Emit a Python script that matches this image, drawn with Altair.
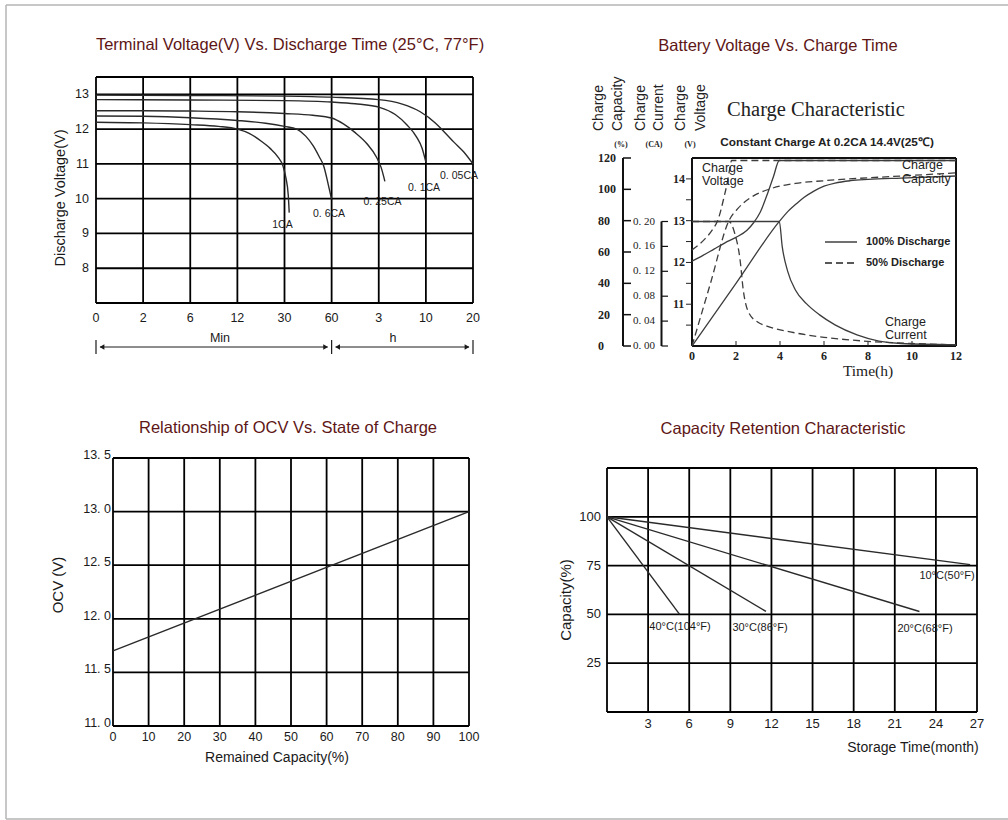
import altair as alt
import pandas as pd

W, H = 1008, 820
SANS = "Liberation Sans"
SERIF = "Liberation Serif"
TITLE_COLOR = "#5e1616"
INK = "#1a1a1a"
CURVE = "#2a2a2a"
CHG = "#3c3c3c"

# ======================= DATA =======================
# Panel 1 : terminal voltage vs discharge time (x = index of the time tick)
p1_time_labels = ["0", "2", "6", "12", "30", "60", "3", "10", "20"]
p1_time_index = [0, 1, 2, 3, 4, 5, 6, 7, 8]
p1_volt_ticks = [8, 9, 10, 11, 12, 13]

c1ca_t = [0, 1, 2, 2.6, 3.0, 3.25, 3.5, 3.7, 3.85, 3.97, 4.03, 4.08, 4.1]
c1ca_v = [12.2, 12.18, 12.13, 12.08, 12.0, 11.88, 11.66, 11.44, 11.22, 10.93, 10.6, 10.1, 9.6]
c06_t = [0, 1, 2, 3, 3.6, 4.0, 4.26, 4.45, 4.61, 4.74, 4.83, 4.93, 5.0]
c06_v = [12.38, 12.37, 12.33, 12.25, 12.17, 12.08, 12.0, 11.8, 11.52, 11.2, 10.95, 10.4, 9.98]
c025_t = [0, 1, 2, 3, 4, 4.6, 5.0, 5.25, 5.5, 5.75, 5.95, 6.05, 6.13]
c025_v = [12.53, 12.53, 12.52, 12.5, 12.45, 12.4, 12.32, 12.15, 11.9, 11.58, 11.2, 10.9, 10.5]
c01_t = [0, 2, 4, 5, 5.5, 6.03, 6.35, 6.6, 6.8, 6.92, 7.0]
c01_v = [12.85, 12.84, 12.82, 12.78, 12.73, 12.62, 12.42, 12.12, 11.78, 11.45, 11.05]
c005_t = [0, 2, 4, 5, 6, 6.5, 6.88, 7.2, 7.37, 7.6, 7.8, 8.0]
c005_v = [12.98, 12.97, 12.95, 12.92, 12.85, 12.72, 12.5, 12.18, 11.95, 11.62, 11.35, 11.0]
p1_curve_names = ["1CA", "0. 6CA", "0. 25CA", "0. 1CA", "0. 05CA"]

# Panel 2 : charge characteristic
p2_hours = [0, 2, 4, 6, 8, 10, 12]
p2_volt_ticks = [11, 12, 13, 14]
p2_volt_minor = [10.5, 11, 11.5, 12, 12.5, 13, 13.5, 14]
p2_cap_ticks = [0, 20, 40, 60, 80, 100, 120]
p2_cur_ticks = [0.0, 0.04, 0.08, 0.12, 0.16, 0.20]
p2_cur_labels = ["0. 00", "0. 04", "0. 08", "0. 12", "0. 16", "0. 20"]

v100_t = [0, 0.5, 1, 1.5, 2, 2.5, 2.8, 3.1, 3.4, 3.7, 3.97, 12]
v100_v = [12.03, 12.17, 12.32, 12.47, 12.6, 12.77, 12.95, 13.2, 13.6, 14.05, 14.44, 14.44]
v50_t = [0, 0.3, 0.6, 0.9, 1.2, 1.45, 1.6, 1.72, 1.8, 12]
v50_v = [12.3, 12.42, 12.57, 12.76, 13.05, 13.55, 13.9, 14.25, 14.44, 14.44]
cap100_t = [0, 2, 3.97, 4.3, 4.76, 5.1, 5.5, 6.0, 6.5, 7.2, 8, 9.5, 12]
cap100_c = [0, 40, 79.5, 85, 91, 95, 98.5, 102, 104, 105.5, 106.3, 107.2, 108.5]
cap50_t = [0, 0.84, 1.68, 2.1, 2.7, 3.6, 4.7, 6, 7, 9.5, 12]
cap50_c = [0, 40, 80, 88, 95, 100.5, 103.8, 105.5, 106.5, 108.5, 110.5]
cur100_t = [0, 3.97, 4.1, 4.35, 4.7, 5.2, 5.8, 6.5, 7.5, 8.5, 9.5, 12]
cur100_i = [0.2, 0.2, 0.16, 0.12, 0.09, 0.068, 0.05, 0.034, 0.018, 0.008, 0.004, 0.002]
cur50_t = [0, 1.68, 1.95, 2.18, 2.33, 2.56, 3.0, 3.4, 4.7, 6, 7.8, 10, 12]
cur50_i = [0.2, 0.2, 0.18, 0.14, 0.09, 0.055, 0.038, 0.032, 0.021, 0.014, 0.008, 0.004, 0.002]

# Panel 3 : OCV vs state of charge
p3_cap_ticks = [0, 10, 20, 30, 40, 50, 60, 70, 80, 90, 100]
p3_ocv_ticks = [11.0, 11.5, 12.0, 12.5, 13.0, 13.5]
p3_ocv_labels = ["11. 0", "11. 5", "12. 0", "12. 5", "13. 0", "13. 5"]
ocv_cap = [0, 100]
ocv_volt = [11.7, 13.0]

# Panel 4 : capacity retention
p4_month_ticks = [0, 3, 6, 9, 12, 15, 18, 21, 24, 27]
p4_month_labels = [3, 6, 9, 12, 15, 18, 21, 24, 27]
p4_cap_grid = [0, 25, 50, 75, 100, 125]
p4_cap_labels = [25, 50, 75, 100]
r40_m, r40_c = [0, 5.3], [100, 50]
r30_m, r30_c = [0, 11.6], [100, 51.5]
r20_m, r20_c = [0, 22.8], [100, 51.5]
r10_m, r10_c = [0, 26.5], [100, 75.5]


# ======================= HELPERS =======================
def lin(a, b, pa, pb, lo, hi):
    f = lambda p: a + (b - a) * (p - pa) / (pb - pa)
    return alt.Scale(domain=[f(lo), f(hi)], nice=False, zero=False)


def xs(a, b, pa, pb):
    return lin(a, b, pa, pb, 0, W)


def ys(a, b, pa, pb):
    return lin(a, b, pa, pb, H, 0)


def X(f, s):
    return alt.X(f, type="quantitative", scale=s, axis=None)


def Y(f, s):
    return alt.Y(f, type="quantitative", scale=s, axis=None)


def vrules(vals, lo, hi, sx, sy, **kw):
    df = pd.DataFrame({"x": vals, "a": [lo] * len(vals), "b": [hi] * len(vals)})
    return alt.Chart(df).mark_rule(**kw).encode(x=X("x", sx), y=Y("a", sy), y2=alt.Y2("b"))


def hrules(vals, lo, hi, sx, sy, **kw):
    df = pd.DataFrame({"y": vals, "a": [lo] * len(vals), "b": [hi] * len(vals)})
    return alt.Chart(df).mark_rule(**kw).encode(y=Y("y", sy), x=X("a", sx), x2=alt.X2("b"))


def vticks(vals, sx, y0, y1, **kw):
    df = pd.DataFrame({"x": vals})
    return alt.Chart(df).mark_rule(**kw).encode(x=X("x", sx), y=alt.value(y0), y2=alt.value(y1))


def hticks(vals, sy, x0, x1, **kw):
    df = pd.DataFrame({"y": vals})
    return alt.Chart(df).mark_rule(**kw).encode(y=Y("y", sy), x=alt.value(x0), x2=alt.value(x1))


def curve(tv, vv, sx, sy, **kw):
    df = pd.DataFrame({"x": tv, "y": vv, "o": list(range(len(tv)))})
    return alt.Chart(df).mark_line(**kw).encode(x=X("x", sx), y=Y("y", sy), order="o:Q")


def xlabels(vals, texts, sx, ypix, **kw):
    df = pd.DataFrame({"x": vals, "t": [str(t) for t in texts]})
    return alt.Chart(df).mark_text(**kw).encode(x=X("x", sx), y=alt.value(ypix), text="t:N")


def ylabels(vals, texts, sy, xpix, **kw):
    df = pd.DataFrame({"y": vals, "t": [str(t) for t in texts]})
    return alt.Chart(df).mark_text(**kw).encode(y=Y("y", sy), x=alt.value(xpix), text="t:N")


def label(s, x, y, **kw):
    return alt.Chart(pd.DataFrame({"t": [s]})).mark_text(**kw).encode(
        x=alt.value(x), y=alt.value(y), text="t:N")


def seg(x0, y0, x1, y1, **kw):
    return alt.Chart(pd.DataFrame({"k": [0]})).mark_rule(**kw).encode(
        x=alt.value(x0), y=alt.value(y0), x2=alt.value(x1), y2=alt.value(y1))


layers = []

# outer frame
for a in [(6, 5, 1008, 5), (6, 5, 6, 819), (6, 819, 1008, 819)]:
    layers.append(seg(*a, color="#b4b4b4", strokeWidth=1.5))

# titles
TS = dict(font=SANS, fontSize=16.5, color=TITLE_COLOR, align="center", baseline="middle")
layers += [
    label("Terminal Voltage(V) Vs. Discharge Time (25°C, 77°F)", 290, 45, **TS),
    label("Battery Voltage Vs. Charge Time", 778, 46, **TS),
    label("Relationship of OCV Vs. State of Charge", 288, 428, **TS),
    label("Capacity Retention Characteristic", 783, 429, **TS),
]

# ======================= PANEL 1 =======================
P1X = xs(0, 8, 96, 473)
P1Y = ys(7, 13.5, 303, 77)
G = dict(color="#000000", strokeWidth=1.8)
layers.append(vrules(p1_time_index, 7, 13.5, P1X, P1Y, **G))
layers.append(hrules([7] + p1_volt_ticks + [13.5], 0, 8, P1X, P1Y, **G))
for tv, vv in [(c1ca_t, c1ca_v), (c06_t, c06_v), (c025_t, c025_v), (c01_t, c01_v), (c005_t, c005_v)]:
    layers.append(curve(tv, vv, P1X, P1Y, color=CURVE, strokeWidth=1.4, interpolate="monotone"))
L12 = dict(font=SANS, fontSize=12.5, color=INK, baseline="middle")
layers.append(xlabels(p1_time_index, p1_time_labels, P1X, 318, align="center", **L12))
layers.append(ylabels(p1_volt_ticks, p1_volt_ticks, P1Y, 89, align="right", **L12))
layers.append(label("Discharge Voltage(V)", 61, 198, angle=270, font=SANS, fontSize=14.5,
                    color=INK, align="center", baseline="middle"))
CL = dict(font=SANS, fontSize=10.5, color=INK, align="center", baseline="middle")
for name, (px, py) in zip(p1_curve_names, [(282.5, 224.5), (329, 213.5), (382.5, 202), (424, 187.5), (459, 176)]):
    layers.append(label(name, px, py, **CL))
layers.append(label("Min", 220, 338, **L12, align="center"))
layers.append(label("h", 393, 338, **L12, align="center"))
AR = dict(color=INK, strokeWidth=1)
arr_df = pd.DataFrame({"a": [0, 5], "b": [5, 8]})
layers.append(alt.Chart(arr_df).mark_rule(xOffset=4, x2Offset=-4, **AR).encode(
    x=X("a", P1X), x2=alt.X2("b"), y=alt.value(347)))
layers.append(vticks([0, 5, 8], P1X, 340, 354, color=INK, strokeWidth=1.2))
layers.append(alt.Chart(pd.DataFrame({"x": [0, 5]})).mark_point(
    shape="triangle-left", filled=True, size=30, color=INK, xOffset=6, opacity=1).encode(
    x=X("x", P1X), y=alt.value(347)))
layers.append(alt.Chart(pd.DataFrame({"x": [5, 8]})).mark_point(
    shape="triangle-right", filled=True, size=30, color=INK, xOffset=-6, opacity=1).encode(
    x=X("x", P1X), y=alt.value(347)))

# ======================= PANEL 2 =======================
P2X = xs(0, 12, 692, 956)
P2V = ys(10, 14.5, 346, 158)
P2C = ys(0, 120, 346, 158)
P2I = ys(0, 0.2, 346, 221.5)
B = dict(color="#111111", strokeWidth=2)
layers.append(vrules([0, 12], 10, 14.5, P2X, P2V, **B))
layers.append(hrules([10, 14.5], 0, 12, P2X, P2V, **B))
layers.append(hticks(p2_volt_minor, P2V, 686, 692, color="#222", strokeWidth=1))
layers.append(vticks([2, 4, 6, 8, 10], P2X, 341, 346, color="#222", strokeWidth=1))
layers.append(alt.Chart(pd.DataFrame({"a": [0], "b": [120]})).mark_rule(color="#111", strokeWidth=2).encode(
    x=alt.value(623), y=Y("a", P2C), y2=alt.Y2("b")))
layers.append(hticks(p2_cap_ticks, P2C, 623, 631, color="#111", strokeWidth=1.5))
layers.append(alt.Chart(pd.DataFrame({"a": [0.0], "b": [0.2]})).mark_rule(color="#111", strokeWidth=2).encode(
    x=alt.value(661.5), y=Y("a", P2I), y2=alt.Y2("b")))
layers.append(hticks(p2_cur_ticks, P2I, 661.5, 668, color="#111", strokeWidth=1.2))

SL = dict(font=SERIF, fontSize=12, fontWeight="bold", color="#222", baseline="middle")
layers.append(ylabels(p2_cap_ticks, p2_cap_ticks, P2C, 598, align="left", **SL))
layers.append(ylabels(p2_cur_ticks, p2_cur_labels, P2I, 633, align="left",
                      **{**SL, "fontSize": 11, "fontWeight": "normal"}))
layers.append(ylabels(p2_volt_ticks, p2_volt_ticks, P2V, 673, align="left", **SL))
layers.append(xlabels(p2_hours, p2_hours, P2X, 356, align="center", **SL))

SOL = dict(color=CHG, strokeWidth=1.3, interpolate="monotone")
DSH = dict(color=CHG, strokeWidth=1.3, interpolate="monotone", strokeDash=[7, 4])
layers += [
    curve(v100_t, v100_v, P2X, P2V, **SOL),
    curve(v50_t, v50_v, P2X, P2V, **DSH),
    curve(cap100_t, cap100_c, P2X, P2C, **SOL),
    curve(cap50_t, cap50_c, P2X, P2C, **DSH),
    curve(cur100_t, cur100_i, P2X, P2I, **SOL),
    curve(cur50_t, cur50_i, P2X, P2I, **DSH),
]

HD = dict(font=SANS, fontSize=14, color="#222", angle=270, align="left", baseline="middle")
for s, x in [("Charge", 599), ("Capacity", 618), ("Charge", 641), ("Current", 659),
             ("Charge", 681), ("Voltage", 701)]:
    layers.append(label(s, x, 131, **HD))
UN = dict(font=SERIF, fontSize=8, fontWeight="bold", color="#222", align="center", baseline="middle")
layers += [label("(%)", 621, 145, **UN), label("(CA)", 654, 145, **UN), label("(V)", 690, 145, **UN)]
layers.append(label("Charge Characteristic", 816, 110, font=SERIF, fontSize=20.5, color="#222",
                    align="center", baseline="middle"))
layers.append(label("Constant Charge At 0.2CA 14.4V(25℃)", 827, 142, font=SANS, fontSize=11.8,
                    fontWeight="bold", color="#222", align="center", baseline="middle"))
IN = dict(font=SANS, fontSize=12.5, color="#222", align="left", baseline="middle")
layers += [
    label("Charge", 702, 167.5, **IN), label("Voltage", 702, 180.5, **IN),
    label("Charge", 902, 165, **IN), label("Capacity", 902, 178.5, **IN),
    label("Charge", 885, 321.5, **IN), label("Current", 885, 335, **IN),
]
layers.append(seg(825, 242, 857, 242, color="#222", strokeWidth=1.3))
layers.append(seg(825, 263, 857, 263, color="#222", strokeWidth=1.3, strokeDash=[7, 4]))
LG = dict(font=SANS, fontSize=11, fontWeight="bold", color="#222", align="left", baseline="middle")
layers += [label("100% Discharge", 866, 242, **LG), label("50% Discharge", 866, 263, **LG)]
layers.append(label("Time(h)", 868, 371, font=SERIF, fontSize=15.5, color="#222",
                    align="center", baseline="middle"))

# ======================= PANEL 3 =======================
P3X = xs(0, 100, 113, 469)
P3Y = ys(11, 13.5, 726, 458)
layers.append(vrules(p3_cap_ticks, 11, 13.5, P3X, P3Y, **G))
layers.append(hrules(p3_ocv_ticks, 0, 100, P3X, P3Y, **G))
layers.append(curve(ocv_cap, ocv_volt, P3X, P3Y, color=CURVE, strokeWidth=1.4))
layers.append(ylabels(p3_ocv_ticks, p3_ocv_labels, P3Y, 111, align="right", dy=1,
                      font=SANS, fontSize=12.5, color=INK, baseline="alphabetic"))
layers.append(xlabels(p3_cap_ticks, p3_cap_ticks, P3X, 737, align="center", **L12))
layers.append(label("Remained Capacity(%)", 277, 758, font=SANS, fontSize=14, color=INK,
                    align="center", baseline="middle"))
layers.append(label("OCV (V)", 58, 585, angle=270, font=SANS, fontSize=15, color=INK,
                    align="center", baseline="middle"))

# ======================= PANEL 4 =======================
P4X = xs(0, 27, 607, 977)
P4Y = ys(0, 125, 712, 468)
layers.append(vrules(p4_month_ticks, 0, 125, P4X, P4Y, **G))
layers.append(hrules(p4_cap_grid, 0, 27, P4X, P4Y, **G))
for mv, cv in [(r40_m, r40_c), (r30_m, r30_c), (r20_m, r20_c), (r10_m, r10_c)]:
    layers.append(curve(mv, cv, P4X, P4Y, color=CURVE, strokeWidth=1.4))
L13 = {**L12, "fontSize": 13}
layers.append(ylabels(p4_cap_labels, p4_cap_labels, P4Y, 601, align="right", **L13))
layers.append(xlabels(p4_month_labels, p4_month_labels, P4X, 723.5, align="center", **L13))
layers.append(label("Storage  Time(month)", 913, 748, font=SANS, fontSize=14, color=INK,
                    align="center", baseline="middle"))
layers.append(label("Capacity(%)", 566, 600, angle=270, font=SANS, fontSize=15, color=INK,
                    align="center", baseline="middle"))
RL = dict(font=SANS, fontSize=11, color=INK, align="center", baseline="middle")
layers += [
    label("40°C(104°F)", 680, 627, **RL),
    label("30°C(86°F)", 760, 627.5, **RL),
    label("20°C(68°F)", 925, 628.5, **RL),
    label("10°C(50°F)", 947, 576, **RL),
]

chart = alt.layer(*layers).resolve_scale(x="independent", y="independent").properties(
    width=W, height=H, autosize=alt.AutoSizeParams(type="none"), padding=0,
    background="white").configure_view(stroke=None)

chart.save("out.html", embed_options={"renderer": "svg", "actions": False})
